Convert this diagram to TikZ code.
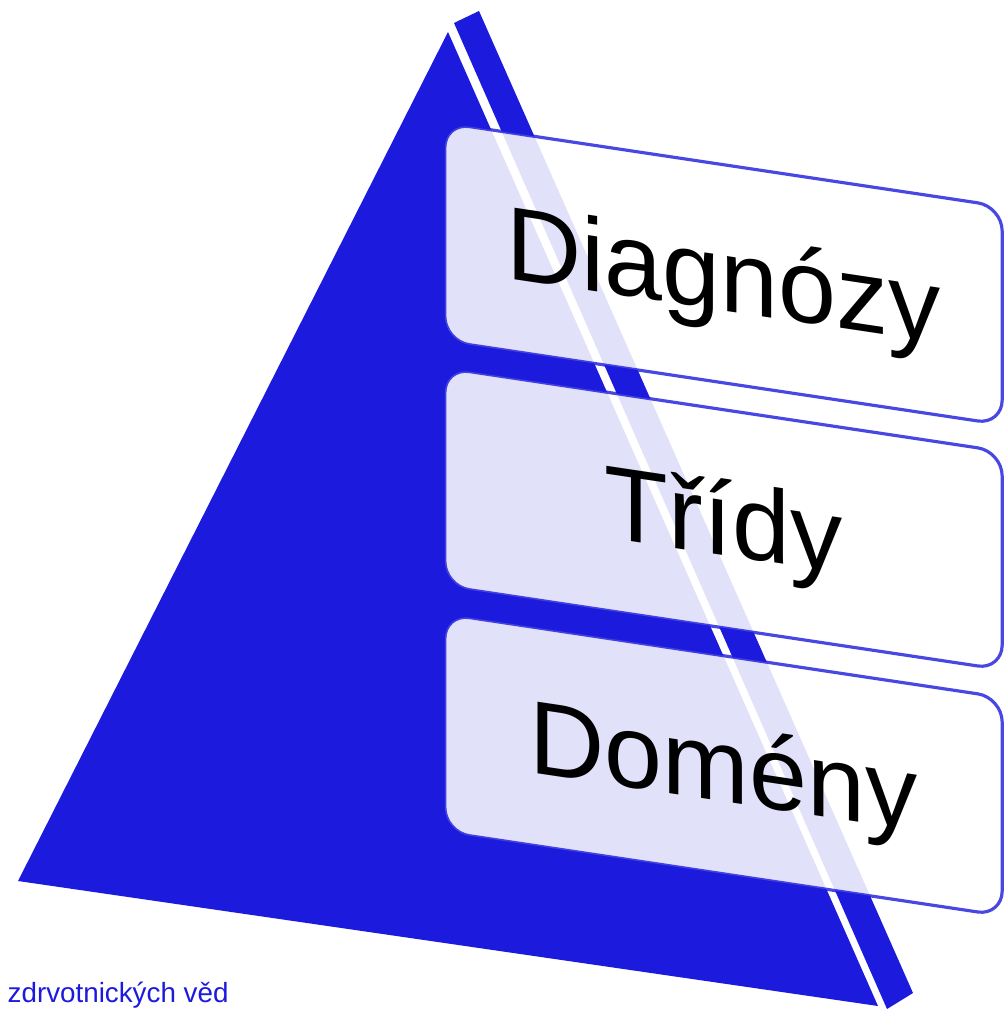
\documentclass[tikz,border=0pt]{standalone}
\usepackage{fontspec}
\setmainfont{Liberation Sans}
\definecolor{pyrblue}{RGB}{28,26,220}

\begin{document}
\begin{tikzpicture}[x=0.01cm,y=-0.01cm,
    levelbox/.style={draw=pyrblue,draw opacity=0.8,line width=0.9pt,
      fill=white,fill opacity=0.87,text opacity=1,rounded corners=7pt,
      minimum width=5.57cm,minimum height=2.18cm,inner sep=0pt,
      text height=21pt,text depth=0pt,font=\fontsize{29.6}{30}\selectfont,
      transform shape}]
  \useasboundingbox (0,0) rectangle (1003,1010);
  % pyramid: front face and side strip
  \fill[pyrblue] (448,32) -- (18,881) -- (878,1006) -- cycle;
  \fill[pyrblue] (454,23) -- (479,11) -- (913,993) -- (887,1009) -- cycle;
  \begin{scope}[shift={(445,0)},yslant=-0.15]
    \node[levelbox] (diagnozy) at (278.5,232) {Diagnózy};
    \node[levelbox] (tridy) at (278.5,477) {Třídy};
    \node[levelbox] (domeny) at (278.5,723) {Domény};
  \end{scope}
  \node[anchor=base west,inner sep=0pt,text=pyrblue,
    font=\fontsize{7.9}{9}\selectfont] (caption) at (7,1002) {zdrvotnických věd};
\end{tikzpicture}
\end{document}
